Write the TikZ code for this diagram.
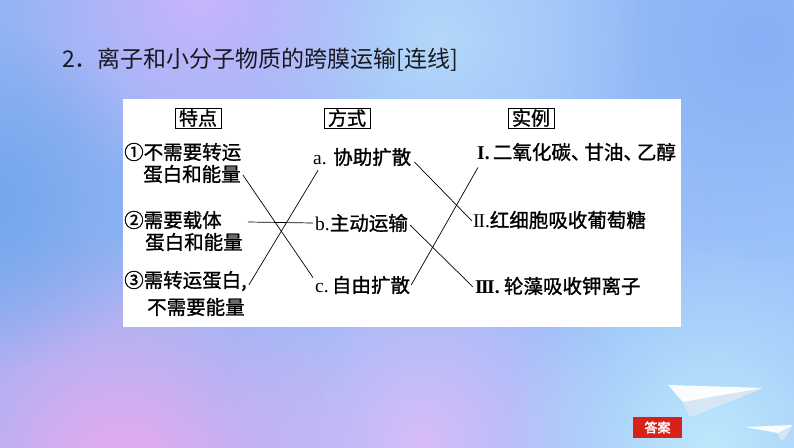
\documentclass[tikz,border=0pt]{standalone}
\usepackage{fontspec}
\setmainfont{Liberation Serif}
\newfontfamily\cjk{Noto Sans CJK SC}
\newfontfamily\cjkmed[FakeBold=1.2]{Noto Sans CJK SC}
\newfontfamily\cjkbold[FakeBold=2.5]{Noto Sans CJK SC}
\usetikzlibrary{fadings}
\tikzfading[name=softblob, inner color=transparent!0, outer color=transparent!100]
\definecolor{bgleft}{RGB}{145,180,244}
\definecolor{bgright}{RGB}{155,195,250}
\definecolor{lavender}{RGB}{200,180,252}
\definecolor{skylight}{RGB}{180,215,250}
\definecolor{pinkish}{RGB}{238,170,238}
\definecolor{lilac}{RGB}{215,188,248}
\definecolor{cyanlight}{RGB}{190,232,252}
\definecolor{bluedeep}{RGB}{135,175,245}
\definecolor{blueleft}{RGB}{115,165,236}
\definecolor{btnred}{RGB}{214,34,26}
\definecolor{titlecol}{RGB}{25,25,30}
\definecolor{planeshade}{RGB}{214,230,244}
\newcommand\dun{、\kern-6pt}
\begin{document}
\begin{tikzpicture}[x=1pt,y=-1pt,
  txt/.style={inner sep=0pt, anchor=west, font=\cjkmed\fontsize{19.5}{20}\selectfont, text height=15.6pt, text depth=0.8pt},
  hdr/.style={draw, line width=0.8pt, inner sep=0pt, minimum width=46pt, minimum height=20pt, font=\cjkmed\fontsize{19}{20}\selectfont},
  link/.style={line width=0.7pt, black},
  blob/.style={path fading=softblob}]
\useasboundingbox (0,0) rectangle (794,447);
% background
\begin{scope}
\clip (0,0) rectangle (794,447);
\shade[left color=bgleft, right color=bgright] (0,0) rectangle (794,447);
\fill[bluedeep, blob] (760,40) circle (220);
\fill[skylight, blob] (440,40) circle (210);
\fill[lavender, blob] (200,0) circle (200);
\fill[lilac, blob] (420,440) circle (210);
\fill[pinkish, blob] (120,480) circle (250);
\fill[blueleft, blob] (-10,200) circle (170);
\fill[cyanlight, blob] (710,445) circle (210);
\end{scope}
% title
\node[anchor=west, inner sep=0pt, text=titlecol, font=\cjk\fontsize{23}{24}\selectfont] (title) at (62,60) {2．离子和小分子物质的跨膜运输[连线]};
% panel
\fill[white] (123,99) rectangle (681,327);
% headers
\node[hdr] (h1) at (198,118) {特点};
\node[hdr] (h2) at (347,118) {方式};
\node[hdr] (h3) at (531,118) {实例};
% left column
\node[txt] (L1a) at (124,152) {①不需要转运};
\node[txt] (L1b) at (143,174) {蛋白和能量};
\node[txt] (L2a) at (124,220) {②需要载体};
\node[txt] (L2b) at (145,242) {蛋白和能量};
\node[txt] (L3a) at (124,280) {③需转运蛋白,};
\node[txt] (L3b) at (147,307) {不需要能量};
% middle column
\node[txt] (Ma) at (313,157) {{\rmfamily a. }协助扩散};
\node[txt] (Mb) at (315,223) {{\rmfamily b.}主动运输};
\node[txt] (Mc) at (315,285) {{\rmfamily c.\,}自由扩散};
% right column
\node[txt] (Ra) at (477,152) {{\rmfamily\bfseries I.\,}二氧化碳\dun 甘油\dun 乙醇};
\node[txt] (Rb) at (473,220) {{\rmfamily I\kern-1.2ptI.}红细胞吸收葡萄糖};
\node[txt] (Rc) at (475,286) {{\rmfamily\bfseries I\kern-1.6ptI\kern-1.6ptI.} 轮藻吸收钾离子};
% links
\coordinate (L2end) at (248,222);
\draw[link] ([shift={(2,1)}]L1b.east) -- ([shift={(-2,1)}]Mc.north west);
\draw[link] ([shift={(2,5)}]L3a.east) -- ([shift={(5,5)}]Ma.south west);
\draw[link] (L2end) -- ([shift={(-2,0)}]Mb.west);
\draw[link] ([shift={(3,5)}]Ma.east) -- ([shift={(-1,1)}]Rb.west);
\draw[link] ([shift={(2,2)}]Mb.east) -- ([shift={(-2,1)}]Rc.west);
\draw[link] ([shift={(1,0)}]Mc.east) -- ([shift={(1,7)}]Ra.south west);
% paper planes
\fill[white, opacity=0.95] (668,385) -- (763,388) -- (690,417) -- (683,402) -- cycle;
\fill[planeshade] (683,402) -- (763,388) -- (690,417) -- cycle;
\fill[white, opacity=0.95] (745,427) -- (793,425) -- (782,441) -- (778,433) -- cycle;
\fill[planeshade] (778,433) -- (793,425) -- (782,441) -- cycle;
% answer button
\node[fill=btnred, text=white, minimum width=49pt, minimum height=21pt, inner sep=0pt, font=\cjkbold\fontsize{13}{14}\selectfont] (ans) at (657.5,427.5) {答案};
\end{tikzpicture}
\end{document}
